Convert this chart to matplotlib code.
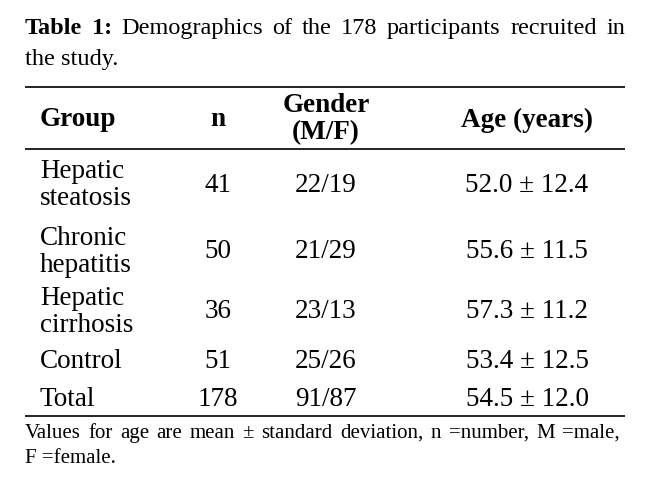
import matplotlib
matplotlib.use("Agg")
import matplotlib.pyplot as plt

# table content
caption_1 = "Demographics of the 178 participants recruited in"
caption_2 = "the study."
headers = ["Group", "n", "Gender\n(M/F)", "Age (years)"]
groups = ["Hepatic\nsteatosis", "Chronic\nhepatitis", "Hepatic\ncirrhosis", "Control", "Total"]
n_values = ["41", "50", "36", "51", "178"]
gender = ["22/19", "21/29", "23/13", "25/26", "91/87"]
age = ["52.0 \u00b1 12.4", "55.6 \u00b1 11.5", "57.3 \u00b1 11.2", "53.4 \u00b1 12.5", "54.5 \u00b1 12.0"]
note_1 = "Values for age are mean \u00b1 standard deviation, n =number, M =male,"
note_2 = "F =female."

plt.rcParams['font.family'] = ['Liberation Serif', 'DejaVu Serif']

fig = plt.figure(figsize=(6.5, 4.88), dpi=100)
ax = fig.add_axes([0, 0, 1, 1])
ax.set_xlim(0, 650)
ax.set_ylim(488, 0)
ax.axis("off")
fig.canvas.draw()
renderer = fig.canvas.get_renderer()


def justify(words, y, x0, x1, size, weights=None):
    # place words on one baseline so the line fills x0..x1
    if weights is None:
        weights = ["normal"] * len(words)
    texts = [ax.text(0, y, w, fontsize=size, fontweight=wt, va="baseline", ha="left")
             for w, wt in zip(words, weights)]
    inv = ax.transData.inverted()
    widths = []
    for t in texts:
        bb = t.get_window_extent(renderer)
        p0 = inv.transform((bb.x0, bb.y0))
        p1 = inv.transform((bb.x1, bb.y0))
        widths.append(p1[0] - p0[0])
    gap = (x1 - x0 - sum(widths)) / (len(words) - 1)
    x = x0
    for t, w in zip(texts, widths):
        t.set_x(x)
        x += w + gap


cap_size = 17.5
justify(["Table", "1:"] + caption_1.split(), 34, 25, 625, cap_size,
        ["bold", "bold"] + ["normal"] * len(caption_1.split()))
ax.text(25, 65, caption_2, fontsize=cap_size, va="baseline", ha="left")

# rules
for yy in (87, 149, 416):
    ax.plot([25, 625], [yy, yy], color="#222222", lw=1.4, solid_capstyle="butt")

col_x = [40, 218, 326, 527]
body = 19.5
ax.text(col_x[0], 120, headers[0], fontsize=body, fontweight="bold", va="center", ha="left")
ax.text(col_x[1], 120, headers[1], fontsize=body, fontweight="bold", va="center", ha="center")
ax.text(col_x[2], 119, headers[2], fontsize=body, fontweight="bold", va="center", ha="center",
        linespacing=1.08)
ax.text(col_x[3], 120, headers[3], fontsize=body, fontweight="bold", va="center", ha="center")

row_y = [185, 252, 312, 362, 400]
for i, yy in enumerate(row_y):
    ax.text(col_x[0], yy, groups[i], fontsize=body, va="center", ha="left", linespacing=1.07)
    ax.text(col_x[1], yy, n_values[i], fontsize=body, va="center", ha="center")
    ax.text(col_x[2], yy, gender[i], fontsize=body, va="center", ha="center")
    ax.text(col_x[3], yy, age[i], fontsize=body, va="center", ha="center")

note_size = 15
justify(note_1.split(), 438, 25, 620, note_size)
ax.text(25, 463, note_2, fontsize=note_size, va="baseline", ha="left")

fig.savefig("out.png", dpi=100)
